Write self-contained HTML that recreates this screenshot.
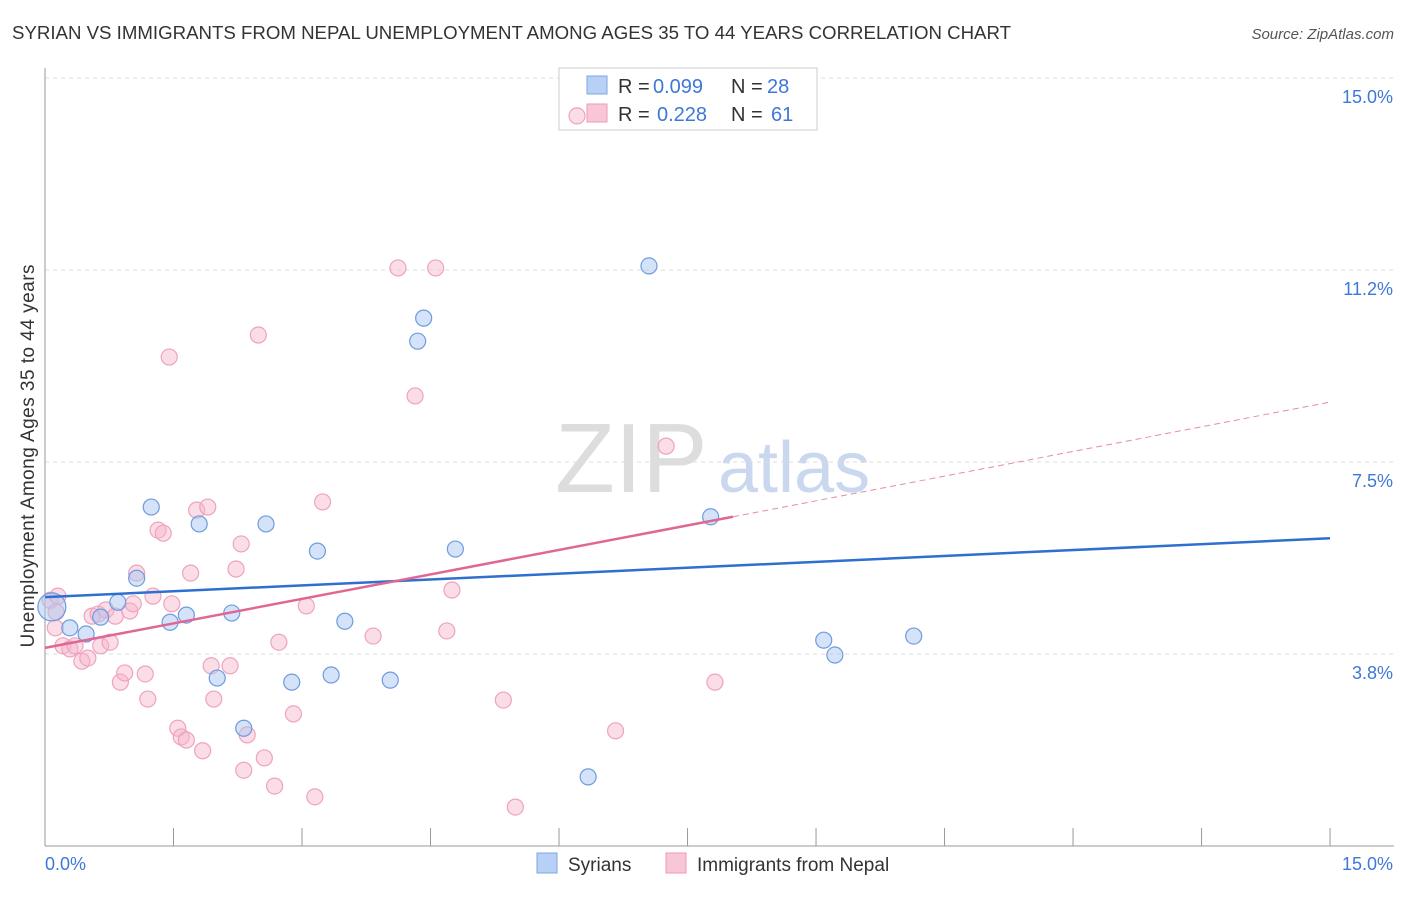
<!DOCTYPE html>
<html><head><meta charset="utf-8"><style>
body{margin:0;background:#fff;font-family:"Liberation Sans",sans-serif}
svg text{font-family:"Liberation Sans",sans-serif}
</style></head><body>
<svg width="1406" height="892" id="c">
<text x="12" y="39" font-size="18" fill="#333" textLength="999" lengthAdjust="spacingAndGlyphs">SYRIAN VS IMMIGRANTS FROM NEPAL UNEMPLOYMENT AMONG AGES 35 TO 44 YEARS CORRELATION CHART</text>
<text x="1394" y="39" font-size="15" fill="#555" text-anchor="end" font-style="italic">Source: ZipAtlas.com</text>
<text x="34" y="456" font-size="19" fill="#333" text-anchor="middle" textLength="383" transform="rotate(-90 34 456)">Unemployment Among Ages 35 to 44 years</text>
<text x="555" y="492" font-size="98" fill="#ddd" font-family="Liberation Serif">ZIP</text>
<text x="718" y="492" font-size="72" fill="#c9d8ee">atlas</text>
<g id="grid"></g>
<g>
<rect x="559" y="68" width="258" height="62" fill="#fff" stroke="#ccc"/>
<rect x="587" y="76" width="20" height="18" fill="#b7d0f5" stroke="#7da6e3"/>
<text x="618" y="93" font-size="20" fill="#333">R =</text>
<text x="653" y="93" font-size="20" fill="#3d78d8">0.099</text>
<text x="731" y="93" font-size="20" fill="#333">N =</text>
<text x="767" y="93" font-size="20" fill="#3d78d8">28</text>
<rect x="587" y="104" width="20" height="18" fill="#f8c6d6" stroke="#ee9ab7"/>
<text x="618" y="121" font-size="20" fill="#333">R =</text>
<text x="657" y="121" font-size="20" fill="#3d78d8">0.228</text>
<text x="731" y="121" font-size="20" fill="#333">N =</text>
<text x="771" y="121" font-size="20" fill="#3d78d8">61</text>
</g>
<g id="pts"></g><g id="lines"></g>
<g>
<rect x="537" y="853" width="20" height="20" fill="#b7d0f5" stroke="#7da6e3"/>
<text x="568" y="871" font-size="19" fill="#333">Syrians</text>
<rect x="666" y="853" width="20" height="20" fill="#f8c6d6" stroke="#ee9ab7"/>
<text x="697" y="871" font-size="19" fill="#333">Immigrants from Nepal</text>
</g>
</svg>
<script>
const yTicks=[3.75,7.5,11.25,15];
const yTickLabels=["3.8%","7.5%","11.2%","15.0%"];
const syrX=[0.08,0.29,0.48,0.65,0.85,1.07,1.24,1.46,1.65,1.80,2.01,2.18,2.32,2.58,2.88,3.18,3.34,3.50,4.03,4.35,4.42,4.79,6.34,7.05,7.77,9.09,9.22,10.14];
const syrY=[4.67,4.26,4.14,4.47,4.76,5.23,6.62,4.37,4.51,6.29,3.28,4.55,2.30,6.29,3.20,5.76,3.34,4.39,3.24,9.86,10.31,5.80,1.35,11.33,6.43,4.02,3.73,4.10];
const nepX=[0.06,0.12,0.15,0.21,0.29,0.35,0.43,0.50,0.55,0.62,0.65,0.71,0.76,0.82,0.88,0.93,0.99,1.03,1.07,1.17,1.20,1.26,1.32,1.38,1.45,1.48,1.55,1.59,1.65,1.70,1.77,1.84,1.90,1.94,1.97,2.16,2.23,2.29,2.32,2.36,2.49,2.56,2.68,2.73,2.90,3.05,3.15,3.24,3.83,4.12,4.32,4.56,4.69,4.75,5.35,5.49,6.21,6.66,7.25,7.82,0.13];
const nepY=[4.80,4.26,4.88,3.91,3.85,3.91,3.61,3.67,4.49,4.53,3.91,4.61,3.98,4.49,3.20,3.38,4.59,4.73,5.33,3.36,2.87,4.88,6.17,6.11,9.55,4.73,2.30,2.13,2.07,5.33,6.56,1.86,6.62,3.52,2.87,3.52,5.41,5.90,1.48,2.17,9.98,1.72,1.17,3.98,2.58,4.69,0.96,6.72,4.10,11.29,8.79,11.29,4.20,5.00,2.85,0.76,14.26,2.25,7.81,3.20,4.57];
const X0=45,XS=85.67,Y0=846,YS=51.2;
const sx=v=>X0+v*XS, sy=v=>Y0-v*YS;
const NS="http://www.w3.org/2000/svg";
const svg=document.getElementById('c');
function mk(t,a,p){const e=document.createElementNS(NS,t);for(const k in a)e.setAttribute(k,a[k]);(p||svg).appendChild(e);return e;}
const g=document.getElementById('grid');
yTicks.forEach((v,i)=>{
 const l=mk('line',{x1:45,x2:1394,y1:sy(v),y2:sy(v),stroke:'#ddd','stroke-dasharray':'4,4'},g);
 
 
 const t=mk('text',{x:1393,y:sy(v)+25,'font-size':18,fill:'#3d78d8','text-anchor':'end'},g);
 t.textContent=yTickLabels[i];
 
 
});
const ax=mk('line',{x1:45,x2:45,y1:68,y2:846,stroke:'#999'},g);


const bx=mk('line',{x1:45,x2:1394,y1:846,y2:846,stroke:'#999'},g);


for(let i=1;i<=10;i++){const tk=mk('line',{x1:sx(i*1.5),x2:sx(i*1.5),y1:828,y2:846,stroke:'#999'},g);
 
 }
[["0.0%",45,'start'],["15.0%",1393,'end']].forEach(a=>{const t=mk('text',{x:a[1],y:870,'font-size':18,fill:'#3d78d8','text-anchor':a[2]},g);t.textContent=a[0];
 
 });
const P=document.getElementById('pts');
nepX.forEach((x,i)=>{const c=mk('circle',{cx:sx(x),cy:sy(nepY[i]),r:8,fill:'rgba(246,180,204,0.45)',stroke:'#eea3bd','stroke-width':1.2},P);
 
 });
syrX.forEach((x,i)=>{const c=mk('circle',{cx:sx(x),cy:sy(syrY[i]),r:i==0?14:8,fill:'rgba(170,200,240,0.5)',stroke:'#6f9be0','stroke-width':1.2},P);
 
 });
const L=document.getElementById('lines');
const b1=mk('line',{x1:sx(0),y1:sy(4.86),x2:sx(15),y2:sy(6.01),stroke:'#2f6fd0','stroke-width':2.5},L);


const p1=mk('line',{x1:sx(0),y1:sy(3.87),x2:sx(8.03),y2:sy(6.43),stroke:'#e06794','stroke-width':2.5},L);


const p2=mk('line',{x1:sx(8.03),y1:sy(6.43),x2:sx(15),y2:sy(8.67),stroke:'#e88aab','stroke-width':1,'stroke-dasharray':'6,4'},L);


</script>
</body></html>
